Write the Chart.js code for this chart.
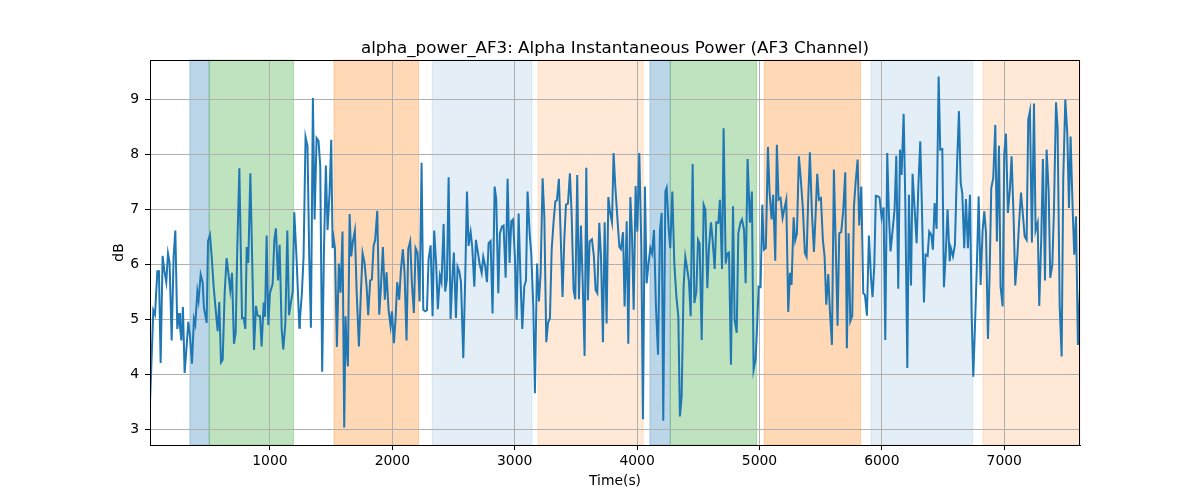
<!DOCTYPE html>
<html>
<head>
<meta charset="utf-8">
<script src="https://cdn.jsdelivr.net/npm/chart.js@4"></script>
<style>
  body { margin: 0; background: #fff; }
</style>
</head>
<body>
<canvas id="myChart" width="1200" height="500"></canvas>
<script>
const ctx = document.getElementById("myChart");

/* input values */
var times = [
  20, 47, 61, 80, 93, 107, 123, 137, 153, 167,
  180, 197, 213, 227, 243, 257, 265, 276, 289, 303,
  319, 333, 347, 363, 379, 390, 407, 417, 434, 450,
  461, 483, 494, 510, 524, 540, 559, 573, 586, 600,
  614, 630, 646, 663, 676, 690, 706, 720, 733, 750,
  763, 772, 785, 799, 810, 823, 840, 856, 870, 886,
  897, 908, 919, 932, 949, 960, 973, 987, 1000, 1022,
  1036, 1049, 1066, 1079, 1096, 1109, 1126, 1142, 1156, 1169,
  1186, 1199, 1218, 1240,
  1245, 1261, 1275, 1291, 1307, 1321, 1335, 1351, 1365, 1381,
  1397, 1411, 1427, 1441, 1457, 1471, 1487, 1501, 1512, 1520,
  1531, 1547, 1563, 1577, 1593, 1607, 1618, 1626, 1637, 1651,
  1664, 1678, 1694, 1708, 1727, 1743, 1757, 1773, 1790, 1803,
  1819, 1833, 1847, 1860, 1877, 1893, 1907, 1923, 1939, 1953,
  1969, 1986, 1997, 2013, 2027, 2040, 2056, 2070, 2086, 2100,
  2116, 2130, 2146, 2160, 2176, 2190, 2206, 2223, 2239, 2253,
  2269, 2283, 2296, 2313, 2329, 2342, 2359, 2372, 2389, 2402,
  2419, 2432, 2446, 2460,
  2476, 2490, 2503, 2520, 2533, 2547, 2561, 2580, 2596, 2610,
  2623, 2640, 2653, 2670, 2683, 2700, 2713, 2730, 2743, 2759,
  2773, 2787, 2803, 2819, 2836, 2849, 2866, 2879, 2896, 2909,
  2926, 2942, 2958, 2972, 2986, 3002, 3016, 3032, 3048, 3062,
  3078, 3092, 3105, 3122, 3135, 3152, 3165, 3182, 3198, 3212,
  3228, 3242, 3258, 3272, 3288, 3302, 3318, 3332, 3345, 3361,
  3375, 3391, 3405, 3419, 3435, 3451, 3465, 3481, 3495, 3511,
  3525, 3541, 3555, 3571, 3585, 3598, 3612, 3631, 3647, 3661,
  3675, 3691,
  3705, 3721, 3735, 3751, 3765, 3778, 3795, 3808, 3822, 3838,
  3855, 3868, 3885, 3898, 3915, 3928, 3945, 3958, 3972, 3988,
  4002, 4018, 4034, 4048, 4064, 4078, 4094, 4108, 4122, 4138,
  4154, 4171, 4187, 4201, 4214, 4231, 4242, 4258, 4271, 4288,
  4304, 4321, 4337, 4350, 4364, 4380, 4394, 4408, 4424, 4438,
  4454, 4468, 4484, 4498, 4511, 4528, 4544, 4558, 4574, 4587,
  4604, 4617, 4634, 4647, 4664, 4677, 4694, 4707, 4724, 4737,
  4751, 4767, 4784, 4797, 4814, 4827, 4844, 4857, 4874, 4887,
  4903,
  4922, 4938, 4952, 4968, 4982, 4993, 5009, 5023, 5036, 5052,
  5069, 5082, 5099, 5112, 5129, 5142, 5156, 5172, 5189, 5202,
  5219, 5235, 5249, 5262, 5279, 5292, 5306, 5322, 5338, 5355,
  5371, 5385, 5398, 5412, 5428, 5445, 5458, 5472, 5486, 5502,
  5518, 5532, 5546, 5562, 5575, 5592, 5608, 5622, 5638, 5652,
  5668, 5684, 5701, 5714, 5728, 5742, 5758, 5772, 5785, 5802,
  5815, 5832, 5848, 5862, 5878, 5894, 5911, 5924, 5938, 5951,
  5968, 5981, 5998, 6014, 6028, 6044, 6058, 6071, 6088, 6104,
  6118, 6134,
  6148, 6161, 6178, 6191, 6208, 6221, 6238, 6251, 6268, 6284,
  6298, 6314, 6328, 6344, 6357, 6374, 6387, 6404, 6417, 6431,
  6447, 6464, 6477, 6494, 6507, 6521, 6537, 6554, 6564, 6581,
  6597, 6614, 6630, 6644, 6657, 6673, 6687, 6703, 6720, 6733,
  6747, 6763, 6777, 6791, 6807, 6823, 6837, 6851, 6867, 6880,
  6894, 6910, 6927, 6940, 6957, 6970, 6987, 7000, 7014, 7030,
  7047, 7060, 7077, 7090, 7107, 7120, 7137, 7150, 7167, 7183,
  7196, 7210, 7226, 7243, 7256, 7273, 7286, 7303, 7316, 7333,
  7346, 7363, 7376, 7393, 7406, 7423, 7436, 7453, 7469, 7482,
  7499, 7515, 7529, 7542, 7559, 7572, 7586, 7602, 7619
];
var power = [
  3.47, 5.16, 5.08, 5.87, 5.87, 4.20, 6.15, 5.88, 5.67, 6.19,
  6.02, 4.61, 6.14, 6.61, 4.82, 5.11, 4.87, 4.61, 5.22, 4.02,
  4.50, 4.95, 4.68, 4.19, 5.00, 4.90, 5.50, 5.34, 5.81, 5.67,
  5.20, 4.93, 6.41, 6.53, 6.14, 5.59, 5.11, 4.78, 5.31, 4.21,
  4.26, 5.47, 6.11, 5.78, 5.52, 5.84, 4.55, 4.75, 6.26, 7.74,
  6.11, 5.02, 5.02, 4.82, 6.31, 6.02, 7.65, 5.96, 4.44, 5.24,
  5.08, 5.05, 5.05, 4.50, 5.30, 5.04, 6.52, 4.89, 5.47, 5.64,
  6.44, 6.65, 5.70, 6.35, 4.81, 4.45, 4.93, 6.61, 5.07, 5.27,
  5.50, 6.94, 6.08, 4.84,
  4.99, 5.47, 6.14, 8.31, 8.14, 6.14, 4.84, 9.02, 6.81, 8.29,
  8.24, 7.78, 4.04, 6.20, 7.79, 6.62, 7.29, 8.26, 6.29, 6.47,
  6.29, 4.49, 6.01, 5.48, 6.59, 3.03, 5.05, 4.50, 4.14, 6.91,
  6.14, 6.41, 6.61, 5.53, 4.50, 5.47, 6.20, 6.02, 5.59, 5.07,
  5.70, 5.72, 6.33, 6.44, 6.97, 5.08, 5.59, 6.31, 5.35, 5.85,
  5.17, 4.87, 5.14, 4.56, 5.02, 5.67, 5.35, 5.88, 6.27, 5.84,
  4.61, 6.27, 6.41, 5.65, 5.11, 6.29, 6.20, 5.32, 7.84, 5.17,
  5.14, 5.16, 6.08, 6.34, 5.05, 6.61, 5.96, 5.18, 5.79, 5.67,
  6.73, 5.50, 5.72, 7.58,
  5.00, 5.72, 6.21, 5.02, 5.95, 5.87, 5.67, 4.29, 5.78, 7.32,
  6.33, 6.58, 6.31, 5.59, 6.44, 6.20, 6.01, 5.84, 6.13, 5.96,
  5.67, 6.38, 6.42, 5.10, 7.41, 7.18, 5.47, 6.56, 6.68, 6.70,
  5.75, 7.55, 6.02, 6.78, 6.81, 6.11, 4.99, 6.92, 5.68, 4.82,
  5.59, 5.70, 7.32, 6.56, 6.20, 5.23, 3.65, 6.01, 5.32, 5.84,
  7.56, 6.87, 4.58, 4.93, 5.02, 6.26, 6.78, 7.14, 7.16, 7.55,
  6.56, 5.40, 6.44, 7.08, 7.10, 7.65, 6.92, 5.53, 5.36, 7.62,
  5.36, 6.70, 5.72, 4.33, 7.75, 5.34, 6.41, 6.45, 6.14, 5.53,
  5.47, 6.75,
  6.14, 4.58, 6.76, 4.92, 7.22, 6.96, 6.76, 8.02, 7.41, 6.87,
  6.31, 6.27, 6.58, 5.23, 6.78, 4.55, 7.22, 6.56, 5.17, 7.42,
  6.59, 8.02, 6.38, 3.18, 7.41, 5.65, 6.02, 6.29, 6.19, 6.62,
  5.23, 4.35, 6.62, 6.93, 3.15, 7.32, 7.39, 6.64, 6.29, 7.32,
  6.02, 5.41, 5.05, 3.23, 3.59, 5.59, 6.13, 5.93, 5.68, 5.05,
  7.82, 5.29, 5.50, 6.44, 6.37, 4.62, 7.08, 6.99, 5.56, 6.29,
  6.76, 6.44, 5.91, 6.76, 6.75, 7.17, 5.91, 8.47, 6.01, 6.19,
  6.21, 4.17, 7.05, 4.99, 4.75, 6.56, 6.75, 6.81, 6.62, 5.65,
  7.91,
  6.75, 7.32, 4.08, 4.26, 4.93, 5.59, 5.58, 7.08, 6.26, 6.29,
  8.13, 7.32, 6.81, 7.26, 6.06, 8.17, 7.17, 7.20, 6.84, 6.99,
  7.17, 5.13, 5.84, 5.62, 6.85, 6.43, 6.56, 7.96, 7.53, 6.99,
  6.20, 6.13, 7.17, 8.03, 6.96, 6.22, 6.87, 7.64, 7.17, 7.20,
  6.44, 6.14, 5.26, 5.82, 5.17, 4.53, 7.72, 6.44, 4.88, 6.56,
  6.58, 6.96, 7.67, 4.47, 6.56, 4.96, 5.06, 7.05, 7.47, 7.90,
  6.70, 7.41, 5.47, 5.44, 5.06, 6.52, 5.76, 5.40, 5.96, 7.24,
  7.23, 7.21, 6.84, 7.03, 4.62, 8.02, 6.87, 6.23, 6.62, 6.99,
  7.97, 5.55,
  8.08, 7.62, 8.73, 7.20, 4.11, 7.26, 5.61, 7.64, 6.99, 6.38,
  7.40, 8.23, 6.96, 5.30, 6.17, 6.15, 6.59, 6.53, 6.26, 7.11,
  6.64, 9.41, 8.08, 8.09, 5.58, 6.14, 6.99, 6.05, 6.29, 6.14,
  6.35, 7.78, 8.78, 7.48, 7.29, 6.29, 7.18, 6.29, 7.26, 5.14,
  3.95, 5.02, 6.03, 7.23, 5.62, 6.61, 6.96, 6.56, 4.64, 5.78,
  7.38, 7.56, 8.53, 6.41, 8.15, 5.59, 5.23, 7.99, 8.37, 6.93,
  7.38, 7.96, 6.81, 5.61, 6.14, 6.70, 7.30, 6.96, 6.50, 6.44,
  8.62, 8.78, 6.39, 8.92, 6.61, 6.75, 5.24, 6.50, 7.91, 5.70,
  8.08, 7.32, 5.75, 5.99, 6.96, 8.94, 8.47, 5.24, 4.32, 7.53,
  8.99, 8.38, 7.02, 8.32, 7.00, 6.17, 6.87, 4.53, 5.55
];
var xTicks = [1000, 2000, 3000, 4000, 5000, 6000, 7000];
var yTicks = [3, 4, 5, 6, 7, 8, 9];

/* shaded time windows */
var spanStart = [346, 504, 1523, 2326, 3190, 4105, 4271, 5039, 5911, 6826];
var spanEnd = [504, 1193, 2215, 3141, 4050, 4271, 4977, 5826, 6742, 7619];
var spanColor = [
  "rgba(31, 119, 180, 0.3)", "rgba(44, 160, 44, 0.3)", "rgba(255, 127, 14, 0.3)",
  "rgba(31, 119, 180, 0.12)", "rgba(255, 127, 14, 0.17)",
  "rgba(31, 119, 180, 0.3)", "rgba(44, 160, 44, 0.3)", "rgba(255, 127, 14, 0.3)",
  "rgba(31, 119, 180, 0.12)", "rgba(255, 127, 14, 0.17)"
];

var points = [];
for (var i = 0; i < Math.min(times.length, power.length); i++) {
  points.push({ x: times[i], y: power[i] });
}

Chart.defaults.font.family = "DejaVu Sans";
Chart.defaults.color = "#000";

/* spans under the grid, frame and title on top */
const decor = {
  id: "decor",
  beforeDraw(chart) {
    const c = chart.ctx;
    const a = chart.chartArea;
    const x = chart.scales.x;
    c.save();
    for (var i = 0; i < spanStart.length; i++) {
      var x0 = Math.max(x.getPixelForValue(spanStart[i]), a.left);
      var x1 = Math.min(x.getPixelForValue(spanEnd[i]), a.right);
      c.fillStyle = spanColor[i];
      c.fillRect(x0, a.top, x1 - x0, a.bottom - a.top);
      c.strokeStyle = spanColor[i];
      c.lineWidth = 1;
      c.strokeRect(x0, a.top, x1 - x0, a.bottom - a.top);
    }
    c.restore();
  },
  afterDraw(chart) {
    const c = chart.ctx;
    const a = chart.chartArea;
    c.save();
    c.strokeStyle = "#000";
    c.lineWidth = 1;
    c.strokeRect(a.left + 0.5, a.top + 0.5, a.right - a.left - 1, a.bottom - a.top);
    c.fillStyle = "#000";
    c.font = "16.7px 'DejaVu Sans'";
    c.textAlign = "center";
    c.textBaseline = "alphabetic";
    c.fillText("alpha_power_AF3: Alpha Instantaneous Power (AF3 Channel)", (a.left + a.right) / 2, 52.5);
    c.restore();
  }
};

new Chart(ctx, {
  type: "line",
  data: {
    datasets: [
      {
        data: points,
        borderColor: "#1f77b4",
        borderWidth: 2,
        pointRadius: 0,
        tension: 0,
        fill: false,
      },
    ],
  },
  options: {
    responsive: false,
    animation: false,
    layout: { padding: { top: 60, right: 120, left: 0, bottom: 0 } },
    plugins: {
      legend: { display: false },
      tooltip: { enabled: false },
    },
    scales: {
      x: {
        type: "linear",
        min: 20,
        max: 7619,
        afterBuildTicks: (s) => { s.ticks = xTicks.map((v) => ({ value: v })); },
        afterFit: (s) => { s.height = 55; },
        ticks: {
          font: { size: 13.9 },
          color: "#000",
          padding: 3,
          maxRotation: 0,
          autoSkip: false,
          callback: (v) => String(v),
        },
        grid: { color: "#b0b0b0", lineWidth: 1, tickLength: 5, tickColor: "#000" },
        border: { color: "#000", width: 1 },
        title: {
          display: true,
          text: "Time(s)",
          font: { size: 13.9 },
          color: "#000",
          padding: { top: 0, bottom: 10.7 },
        },
      },
      y: {
        min: 2.71,
        max: 9.71,
        afterBuildTicks: (s) => { s.ticks = yTicks.map((v) => ({ value: v })); },
        afterFit: (s) => { s.width = 150; },
        ticks: {
          font: { size: 13.9 },
          color: "#000",
          padding: 6,
          callback: (v) => String(v),
        },
        grid: { color: "#b0b0b0", lineWidth: 1, tickLength: 5, tickColor: "#000" },
        border: { color: "#000", width: 1 },
        title: {
          display: true,
          text: "dB",
          font: { size: 13.9 },
          color: "#000",
          padding: { top: 110.7, bottom: 0 },
        },
      },
    },
  },
  plugins: [decor],
});
</script>
</body>
</html>
